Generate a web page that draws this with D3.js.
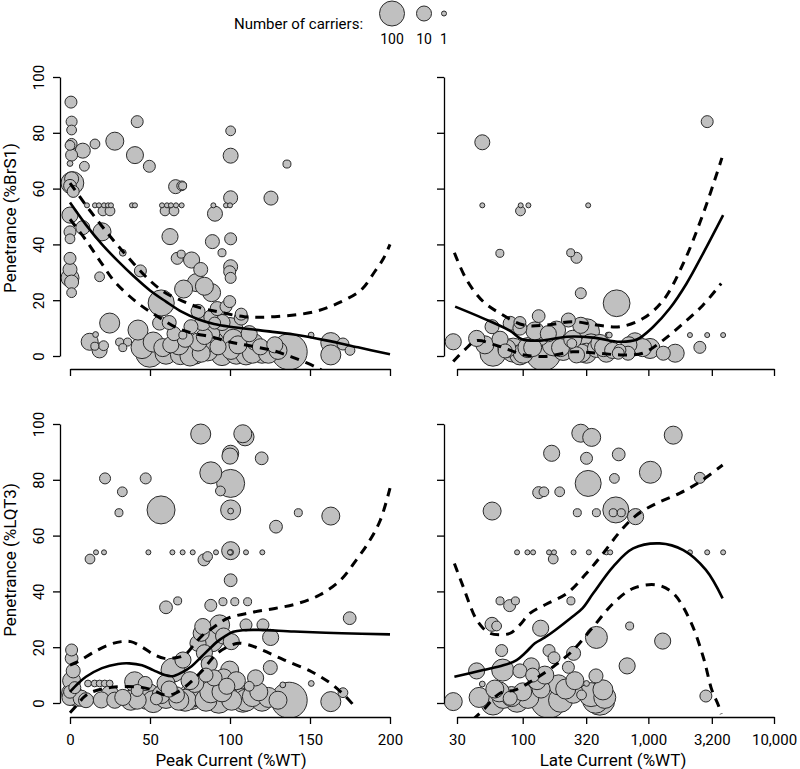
<!DOCTYPE html>
<html><head><meta charset="utf-8">
<script src="https://cdn.jsdelivr.net/npm/d3@7"></script>
<style>
body{margin:0;background:#fff;}
svg{display:block;font-family:"Roboto","Liberation Sans",sans-serif;}
</style></head>
<body><svg id="c" width="800" height="769"></svg>
<script>
// ---------- data: [current (%WT), penetrance (%), number of carriers] ----------
const brsPeak = [
[0.6,91,5],[1,84,4],[1,81,3],[1,76,4],[0,75.5,3],[1,72,5],[0,69,1.2],
[1.5,62,60],[1,63.5,8],[0,61,6],[2,59,5],
[0,50.5,13],[0,44.5,5],[0,42,3],[0,35,5],[0,31,8],[0,28,20],[1,26.5,8],[1,22.7,3],
[8,73.6,10],[15.6,76,3],[28,77,20],[42,84,5],[40.6,72,16],[49.6,68,5],[9,68,3],
[8,46,8],[20,44.5,20],[62.5,42.8,13],[66,60.7,8],[70.4,61,2],[33,37,1.5],[67,35,5],[69.5,36.5,2],
[76,34.4,13],[81.7,31,8],[79,26.3,20],[88.5,22.7,20],[71,24,20],[84,25,20],
[44,30.5,5],[18.5,28.4,3],[99.8,30.2,5],
[100.4,80.7,3],[100.4,71.8,10],[135.6,68.8,2],[125.6,56.6,8],[100.4,56.7,8],[90.6,51,10],[89,41,8],[100.4,42,5],[95,37,2],[100.4,32,8],[100.4,28,4],[69.8,61,3],
[10.6,54,1],[15.6,54,1],[18.1,54,1],[21.25,54,1],[23.75,54,1],[25.6,54,1],[38.75,54,1],[40.6,54,1],[57.5,54,1],[60.6,54,1],[63.1,54,1],[66.25,54,1],[69.8,54,1],[89.6,54,1],[97.5,54,1],[100,54,1],
[20.6,52,3],[25,52,3],[59.4,52,3],[65,52,3],
[12.3,5.1,16],[18.5,2,10],[15.5,3.5,2],[21,3.7,3],[16,7.7,1.2],[24.8,11.8,32],[31,5,2],[36,5,2],[33,3,2],[42.5,9.3,32],[49.8,1,200],[56,11.8,8],[57,19,130],[63,4,13],
[69,0.5,32],[75,0,32],[75.6,10.5,8],[82,1,20],[84,7,13],[88,14,8],[90.4,11.8,5],[92.5,3.3,13],[97.5,17.7,5],[99.8,19.5,5],[100,9,150],[100.6,2,20],[107,13.6,8],[110,0.4,32],[115.4,5,13],[119,3.3,13],[128,4,13],[137,1.5,1260],[150.7,7.5,1.2],[163,4.8,32],[163,0.4,32],[170.6,4.3,5],[175,2,3],
[60,1,50],[86,2,40],[95,0.5,50],[105,4,20],[120,1,32],[80,5,20],[72,6,13],[65,8,8],[75,2,80],[107,15,5],[70.5,7.5,2],
[45,3,50],[52,5,32],[68,4,32],[78,1,50],[90,5,32],[98,2,80],[104,1,50],[114,1,32],[124,1,32],[130,2,20],[58,3,20],[88,8,20],[95,12,13],[102,6,32],[112,8,13],[83,12,13],[62,12,8],[92,17,8],[80,16,8]
];
const brsLate = [
[47.7,76.6,10],[2940,84,5],
[47.7,54,1],[96.4,54,1],[111,54,1],[332,54,1],[96,52,3],
[65.8,36.8,2],[241,37,2],[268,35.2,4],[290,22.5,4],[559,18.9,150],
[2143,7.5,1],[2940,7.5,1],[3937,7.5,1],[2570,3.1,5],
[28,5.1,13],[43,6.3,13],[57,10.5,8],[58,1,126],[79.5,11.7,8],[95,12,5],[95,10,8],[74.8,2.7,20],[84,2.1,80],[95,0.4,32],[101,1,32],[72.5,1.8,8],
[134,14.3,6],[137.5,7,20],[146,1,1000],[186,9.3,20],[231,12.9,8],[246,4.5,3],[268,0.4,13],[322,8.7,126],[322,1,32],[294,1,20],[386,2.7,20],[411,4.5,20],[463,1,20],[478,7.5,1.2],[489,7.5,1.2],[594,2.1,5],[576,1,5],[689,1,8],[782,5.1,20],[1030,2.7,32],[1315,1,8],[1636,1,20],[160,8,13],[200,3,20],[120,3,20],
[50,4,20],[66,6,13],[110,3,32],[125,9,20],[175,4,50],[210,2,32],[250,6,20],[290,11,13],[350,4,50],[440,3,20],[520,2,13],[700,4,13],[900,3,20]
];
const lqtPeak = [
[1,19,5],[1,16,6],[2,11.5,8],[1,8,20],[1,3.5,32],[4,2,20],[0,2,13],[3,5.5,5],[0,4,6],[7,1.7,13],[10,1,10],[19.6,1.1,13],[28,1,13],[40.4,7.6,32],[42,4.5,5],[48.75,2.3,126],[54,1.5,5],[47,7,8],
[11.25,7,1.5],[15.4,7,1.5],[18.5,7,1.5],[21.7,7,1.5],[24.8,7,1.5],
[21.9,80.5,4],[47.3,80.5,4],[32.7,75.7,3],[30.6,68.2,2],[56.9,69.2,200],[12.5,51.6,3],
[16.25,54,1],[21.25,54,1],[49,54,1],[64,54,1],[70.4,54,1],[76.7,54,1],[91.25,54,1],[100,54,1],[110,54,1],[120.2,54,1],
[60,34.3,6],[67.3,36.6,2],
[64.4,11.8,80],[70.6,15.4,13],[66.5,2.9,13],[68,1,32],[75.8,2.3,126],[78,3,80],[82,2.9,80],
[80,21.4,13],[82,25,13],[83,27.4,13],[84,18,13],[85,10,8],[87,14,13],[90,9,13],[88.3,22.6,80],[93.5,28,32],[96,24,13],
[99.8,11.8,20],[100.8,22,13],[93,1,126],[101,1,32],[105,3,80],[110,28,5],[120.6,28,5],[125.4,23.5,13],[125.2,12.7,8],[114,2.3,32],[112,6,3],[137,1,1260],[133,6.5,1.2],[150.8,7,1.2],[163,0.5,32],[170.6,3.7,3],[174.8,30.4,6],
[88,35,5],[95.6,36.3,2],[103,36.3,2],[111,36.3,2],
[81.7,96.4,32],[109.4,95.4,20],[108,96.5,20],[100.4,89.5,13],[100,88.5,13],[119.8,87.7,6],[88,82.5,50],[94,76,3],[100.4,78.7,200],[100.4,69.2,32],[100.4,68.8,1.2],[128.75,63.2,6],[142.7,68.2,2],[163,67,20],
[100.4,54.6,20],[100.4,54,1.2],[83.75,51.3,5],[86,52.5,3],[100.4,44,6],
[42,1,20],[25,3,20],[33,2,13],[57,3,20],[62,5,13],[72,1,50],[85,1,50],[95,4,32],[110,1,50],[118,4,20],[120,1,50],[98,6,13],
[38,1,32],[52,0.5,50],[60,7,20],[78,7,20],[88,4,50],[96,9,20],[104,8,20],[108,1,80],[116,9,13],[124,2,32],[130,1,20],[60,2,50],[75,8,20]
];
const lqtLate = [
[290,96.7,20],[354,95.2,20],[1578,96,20],[170,89.5,13],[322,87.7,5],[581,89.1,6],[332,78.7,126],[537,80.5,3],[1038,82.7,50],[2570,80.7,4],[134,75.4,5],[147.5,75.7,3],[197,75.7,3],[57.1,68.8,20],[272,68.2,2],[386,68.2,2],[525,68.2,2],[609,68.2,2],[551,69.2,126],[791,66.8,13],
[90.2,54,1],[109,54,1],[121,54,1],[162,54,1],[177.5,54,1],[254,54,1],[336,54,1],[463,54,1],[497,54,1],[2143,54,1],[2940,54,1],[3937,54,1],
[175,51.6,3],[66,36.6,2],[87.5,36.6,2],[78.7,34.9,5],[242,36.6,2],
[57,28.2,8],[62,27.6,3],[139,26.8,13],[710,27.6,2],[386,23.5,50],[1300,22.2,13],[68,18.8,5],[162,18.8,5],[177.5,16.2,5],[254,17.8,8],[678,13.3,13],[231,12.8,5],[117,13.3,13],[43,11.5,13],[69.3,11.8,50],[95,11.5,8],[383,9.7,8],[47.7,6.8,1.2],
[28,0.5,20],[58,0,80],[70,2,50],[81.5,2.3,32],[79.5,1.7,8],[161,1,1260],[193,6.5,32],[253,3.5,32],[294,2.9,3],[411,1,316],[435,4.7,32],[322,7,1.2],[2870,2.5,5],[140,5,20],[100,4,20],[60,5,20],
[45,2,32],[65,4,32],[90,1,80],[110,2,50],[130,8,20],[150,10,20],[200,1,80],[220,5,32],[260,8,20],[350,3,80],[380,1,126],[450,2,50],[120,10,8]
];

// ---------- fitted curves: [current, penetrance] ----------
const brsPeakFit = [[0,55],[10,47],[20,40],[30,34],[40,28.5],[50,23.5],[60,19.5],[70,15.8],[80,13.2],[90,11.5],[100,10.5],[120,9.1],[140,7.7],[160,5.6],[180,3.1],[200,0.6]];
const brsPeakUp = [[0,62],[10,54],[20,46.5],[30,39.5],[40,33],[50,27],[60,22.5],[70,19.8],[80,17.5],[92,15.9],[109,14.1],[128,14.1],[153,15.9],[169.6,19.5],[182,23.7],[190.4,30.2],[196,35],[200,40]];
const brsPeakLo = [[0,49],[10,41.5],[20,33],[28,26.6],[42.5,18.9],[55,14.1],[67.5,9.9],[78,8],[88.3,6.9],[100,5],[109,4],[125.8,2.1],[138,-0.2],[148,-2.5],[155,-4.4],[160,-6]];
const brsLateFit = [[29,17.7],[48.5,13.5],[79.5,9],[98.6,6],[137.5,5.5],[225,6.9],[364,6.6],[594,5.1],[808,5.9],[1095,10.5],[1484,17.1],[2015,26],[2730,36.8],[3937,50.5]];
const brsLateUp = [[28.6,37],[35.9,27.2],[48.5,19.5],[66,15.3],[101.6,11.1],[155,11.1],[253,12.3],[386,11.1],[594,10.5],[912,13.5],[1315,20],[1897,33.2],[2730,51],[3850,71]];
const brsLateLo = [[28,-2],[35,2.5],[43,5.5],[60,4],[80,2],[100,0.5],[150,-0.2],[250,1.5],[400,1],[600,0.4],[900,1],[1315,5.7],[1897,11.7],[2730,18.3],[3800,26]];
const lqtPeakFit = [[0,4],[5,7],[10,9.4],[20,12.5],[30,14],[37,14.2],[45,13.5],[52,11.8],[58,10.3],[64,9.6],[70,11],[76,13.2],[82,16.5],[87,19.3],[92,22],[97,24],[102,25.5],[108,26.1],[118,26.2],[140,25.6],[170,25],[200,24.6]];
const lqtPeakUp = [[0,13.6],[5,14.8],[15.4,18.4],[25,21],[32,22],[38,22],[44.6,20.2],[52,17.5],[59,16],[66,16.2],[71.7,17.2],[77,20.5],[82,23.8],[90.4,27.4],[98.75,30.4],[113,32.4],[128,33.9],[142,35.6],[156,38.7],[169,44],[179,51.3],[187.5,58.4],[194,65.6],[200,77]];
const lqtPeakLo = [[0,-3.5],[4,-1],[9,2.3],[14,4],[26,5.6],[45,5.6],[52,4.5],[59,2.9],[65,3.3],[72,5.8],[82,11.2],[92,17.8],[100,20.5],[105,21.4],[112,20.8],[120,19],[134,15.4],[151,11.2],[163,7],[172,2.5],[178,-1.3]];
const lqtLateFit = [[28.6,9.4],[48.5,11.8],[70,13.5],[89.5,15.4],[105,18],[125,21.4],[150,23.5],[180,26],[250,31],[300,34],[364,39.3],[525,48.9],[757,55.4],[1231,57.2],[1897,54.8],[2870,47.7],[3900,37.5]];
const lqtLateUp = [[28.6,50],[33.6,41.7],[41.7,30.9],[48,27],[55,25],[66,24.5],[79.5,25],[95,28],[114,32.1],[155,35.5],[225,39.3],[322,46.5],[438,53.7],[594,61.4],[808,67.4],[1168,71.6],[1784,75.2],[2570,79.3],[3900,85.3]];
const lqtLateLo = [[40,-6],[48.5,-2.5],[66,3.5],[87.5,4.7],[121,8.2],[175,13],[253,19],[364,27.3],[525,35.7],[757,41.1],[1168,42.3],[1578,39.3],[2143,29.7],[2730,16.6],[3200,4.7],[3600,-0.7],[3800,-4]];

// ---------- ticks / labels ----------
const yTicks = [0,20,40,60,80,100];
const peakTicks = [0,50,100,150,200];
const lateTicks = [30,100,320,1000,3200,10000];
const lateTickLabels = ["30","100","320","1,000","3,200","10,000"];
const legendCounts = [100,10,1];
const yTitles = ["Penetrance (%BrS1)","Penetrance (%LQT3)"];
const xTitles = ["Peak Current (%WT)","Late Current (%WT)"];

// ---------- drawing ----------
const svg = d3.select("#c");
const FILL="#c0c0c0", STROKE="#2a2a2a";
const rScale = d3.scaleLog().domain([1,100]).range([2.5,12.5]);

const xPeak = d3.scaleLinear().domain([0,200]).range([70,390]);
const xLate = d3.scaleLog().domain([30,10000]).range([457,774]);
const yTop = d3.scaleLinear().domain([0,100]).range([356,77]);
const yBot = d3.scaleLinear().domain([0,100]).range([703,424]);

const panels = [
  {id:"tl", x:xPeak, y:yTop, pts:brsPeak, fit:brsPeakFit, up:brsPeakUp, lo:brsPeakLo, axX:60, axY:369, ylab:true, xlab:false},
  {id:"tr", x:xLate, y:yTop, pts:brsLate, fit:brsLateFit, up:brsLateUp, lo:brsLateLo, axX:444, axY:369, ylab:false, xlab:false},
  {id:"bl", x:xPeak, y:yBot, pts:lqtPeak, fit:lqtPeakFit, up:lqtPeakUp, lo:lqtPeakLo, axX:60, axY:717, ylab:true, xlab:true},
  {id:"br", x:xLate, y:yBot, pts:lqtLate, fit:lqtLateFit, up:lqtLateUp, lo:lqtLateLo, axX:444, axY:717, ylab:false, xlab:true}
];

const defs = svg.append("defs");
panels.forEach(p=>{
  const top = p.y.range()[1]-11;
  const left = p.axX;
  const right = p.x.range()[1]+12;
  defs.append("clipPath").attr("id","clip-"+p.id).append("rect")
    .attr("x",left).attr("y",top).attr("width",right-left).attr("height",p.axY-top);

  const g = svg.append("g").attr("clip-path","url(#clip-"+p.id+")");
  const pts = p.pts.slice().sort((a,b)=>b[2]-a[2]);
  g.selectAll("circle").data(pts).join("circle")
    .attr("cx",d=>p.x(d[0])).attr("cy",d=>p.y(d[1])).attr("r",d=>rScale(d[2]))
    .attr("fill",FILL).attr("stroke",STROKE).attr("stroke-width",1);

  const line = d3.line().x(d=>p.x(d[0])).y(d=>p.y(d[1])).curve(d3.curveCatmullRom.alpha(0.5));
  g.append("path").attr("d",line(p.fit)).attr("fill","none").attr("stroke","#000").attr("stroke-width",2.6);
  [p.up,p.lo].forEach(c=>{
    g.append("path").attr("d",line(c)).attr("fill","none").attr("stroke","#000")
      .attr("stroke-width",3).attr("stroke-dasharray","9,7");
  });

  // x axis
  const isLate = p.x===xLate;
  const xa = d3.axisBottom(p.x).tickValues(isLate?lateTicks:peakTicks).tickSize(7).tickSizeOuter(0)
      .tickFormat(isLate ? ((d,i)=>lateTickLabels[i]) : d3.format("d"));
  const gx = svg.append("g").attr("transform",`translate(0,${p.axY})`).call(xa);
  gx.selectAll("path,line").attr("stroke","#000").attr("stroke-width",1.3);
  gx.selectAll("text").attr("font-size",15).attr("fill","#000").attr("y",28).attr("dy",0)
    .attr("font-family",'"Roboto","Liberation Sans",sans-serif');
  if(!p.xlab) gx.selectAll("text").remove();

  // y axis
  const ya = d3.axisLeft(p.y).tickValues(yTicks).tickSize(7).tickSizeOuter(0).tickFormat(d3.format("d"));
  const gy = svg.append("g").attr("transform",`translate(${p.axX},0)`).call(ya);
  gy.selectAll("path,line").attr("stroke","#000").attr("stroke-width",1.3);
  gy.selectAll("text").attr("font-size",15).attr("fill","#000")
    .attr("transform","rotate(-90)").attr("x",0).attr("y",-16).attr("dy",0)
    .attr("text-anchor","middle")
    .attr("font-family",'"Roboto","Liberation Sans",sans-serif');
  if(!p.ylab) gy.selectAll("text").remove();
});

// axis titles
[[yTitles[0],218],[yTitles[1],560]].forEach(([t,cy])=>{
  svg.append("text").attr("transform",`translate(16,${cy}) rotate(-90)`)
    .attr("text-anchor","middle").attr("font-size",17).text(t);
});
[[xTitles[0],231],[xTitles[1],613]].forEach(([t,cx])=>{
  svg.append("text").attr("x",cx).attr("y",766).attr("text-anchor","middle").attr("font-size",17).text(t);
});

// legend
svg.append("text").attr("x",234).attr("y",29).attr("font-size",15).text("Number of carriers:");
const legX = [392,424,444];
legendCounts.forEach((n,i)=>{
  svg.append("circle").attr("cx",legX[i]).attr("cy",13.5).attr("r",rScale(n))
    .attr("fill",FILL).attr("stroke",STROKE).attr("stroke-width",1);
  svg.append("text").attr("x",legX[i]).attr("y",44).attr("text-anchor","middle").attr("font-size",14).text(n);
});
</script></body></html>
